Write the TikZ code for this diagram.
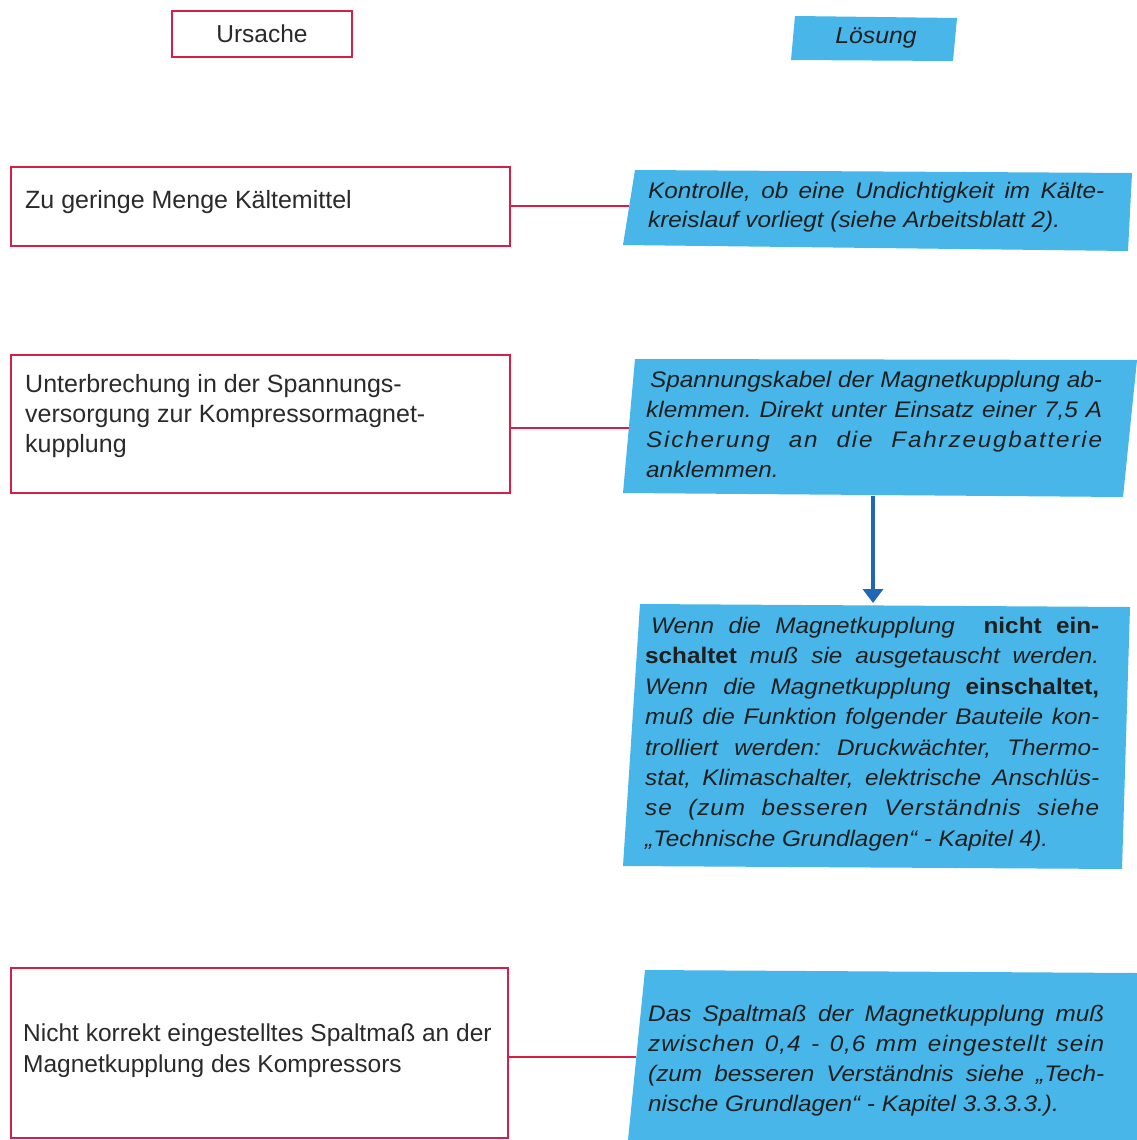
\documentclass[tikz,border=0pt]{standalone}
\usepackage{fontspec}
\setmainfont{Liberation Sans}
\newfontfamily\bluefont[FakeStretch=1.08]{Liberation Sans}
\usetikzlibrary{arrows.meta,calc}
\definecolor{ured}{HTML}{D61E46}
\definecolor{lblue}{HTML}{48B6E8}
\definecolor{dblue}{HTML}{1F66B5}
\definecolor{ink}{HTML}{2A2A2A}
\newcommand\bluefnt[1]{\bluefont\itshape\fontsize{22.5}{#1}\selectfont
  \frenchspacing\tolerance=10000\hbadness=10000\hyphenpenalty=10000\relax}
\begin{document}
\begin{tikzpicture}[x=1pt,y=-1pt,
  redbox/.style={draw=ured, line width=2pt, fill=white, inner sep=0pt, anchor=north west},
  redtext/.style={anchor=north west, inner sep=0pt, align=left, text=ink,
    font=\fontsize{25}{30}\selectfont},
  bluebox/.style={fill=lblue, draw=none},
  bluetext/.style={anchor=north west, inner sep=0pt, text width=456pt, align=justify, text=black!88,
    font=\bluefnt{30}},
  conn/.style={draw=ured, line width=1.6pt},
  flow/.style={draw=dblue, line width=3.5pt, -{Triangle[width=20pt,length=14pt]}}
]
\useasboundingbox (0,0) rectangle (1137,1140);
\fill[white] (0,0) rectangle (1137,1140);

% header
\node[redbox, minimum width=180pt, minimum height=46pt, text=ink,
  font=\fontsize{24.5}{30}\selectfont] (ursache) at (171,10) {Ursache};
\coordinate (l1) at (795,16); \coordinate (l2) at (957,18);
\coordinate (l3) at (953,61); \coordinate (l4) at (791,60);
\fill[bluebox] (l1) -- (l2) -- (l3) -- (l4) -- cycle;
\node[inner sep=0pt, text=black!88, font=\bluefont\itshape\fontsize{23}{26}\selectfont] (loesung) at (876,38) {Lösung};

% blue polygons
\coordinate (b1tl) at (635,170); \coordinate (b1tr) at (1132,173);
\coordinate (b1br) at (1128,251); \coordinate (b1bl) at (623,245);
\fill[bluebox] (b1tl) -- (b1tr) -- (b1br) -- (b1bl) -- cycle;
\coordinate (b2tl) at (635,359); \coordinate (b2tr) at (1137,360);
\coordinate (b2br) at (1123,497); \coordinate (b2bl) at (623,493);
\fill[bluebox] (b2tl) -- (b2tr) -- (b2br) -- (b2bl) -- cycle;
\coordinate (b3tl) at (640,604); \coordinate (b3tr) at (1130,607);
\coordinate (b3br) at (1122,869); \coordinate (b3bl) at (623,866);
\fill[bluebox] (b3tl) -- (b3tr) -- (b3br) -- (b3bl) -- cycle;
\coordinate (b4tl) at (645,970); \coordinate (b4tr) at (1137,973);
\coordinate (b4br) at (1137,1140); \coordinate (b4bl) at (628,1140);
\fill[bluebox] (b4tl) -- (b4tr) -- (b4br) -- (b4bl) -- cycle;

% red boxes
\node[redbox, minimum width=499pt, minimum height=79pt] (u1) at (10,166) {};
\node[redbox, minimum width=499pt, minimum height=138pt] (u2) at (10,354) {};
\node[redbox, minimum width=497pt, minimum height=170pt] (u3) at (10,967) {};

\node[redtext] (t1) at (25,187) {\strut Zu geringe Menge Kältemittel};
\node[redtext] (t2) at (25,371) {\strut Unterbrechung in der Spannungs-\\versorgung zur Kompressormagnet-\\kupplung};
\node[redtext, font=\fontsize{24.5}{31}\selectfont] (t3) at (23,1020) {\strut Nicht korrekt eingestelltes Spaltmaß an der\\Magnetkupplung des Kompressors};

% blue texts
\node[bluetext, font=\bluefnt{29}] (s1) at (648,178) {\strut Kontrolle, ob eine Undichtigkeit im Kälte-\linebreak kreislauf vorliegt (siehe Arbeitsblatt 2).};
\node[bluetext, font=\bluefnt{29.7}] (s2) at (646,367) {\strut\hspace*{4pt}Spannungskabel der Magnetkupplung ab-\linebreak klemmen. Direkt unter Einsatz einer 7,5~A\linebreak {\addfontfeature{LetterSpace=8}Sicherung an die Fahrzeugbatterie}\linebreak anklemmen.};
\node[bluetext, text width=454pt, font=\bluefnt{30.4}] (s3) at (645,612) {\strut\hspace*{6pt}Wenn die Magnetkupplung \ \textbf{\upshape nicht ein-}\linebreak \textbf{\upshape schaltet} muß sie ausgetauscht werden.\linebreak Wenn die Magnetkupplung \textbf{\upshape einschaltet,}\linebreak muß die Funktion folgender Bauteile kon-\linebreak trolliert werden: Druckwächter, Thermo-\linebreak stat, Klimaschalter, elektrische Anschlüs-\linebreak {\addfontfeature{LetterSpace=4}se (zum besseren Verständnis siehe}\linebreak „Technische Grundlagen“ - Kapitel 4).};
\node[bluetext] (s4) at (648,1000) {\strut Das Spaltmaß der Magnetkupplung muß\linebreak {\addfontfeature{LetterSpace=4}zwischen 0,4 - 0,6 mm eingestellt sein}\linebreak (zum besseren Verständnis siehe „Tech-\linebreak nische Grundlagen“ - Kapitel 3.3.3.3.).};

% connectors
\coordinate (b1l) at (629,206);
\coordinate (b2l) at (629,428);
\coordinate (b4l) at (636,1057);
\draw[conn] (u1.east |- b1l) -- (b1l);
\draw[conn] (u2.east |- b2l) -- (b2l);
\draw[conn] (u3.east |- b4l) -- (b4l);
\coordinate (b2b) at (873,496);
\coordinate (b3t) at (873,603);
\draw[flow] (b2b) -- (b3t);
\end{tikzpicture}
\end{document}
